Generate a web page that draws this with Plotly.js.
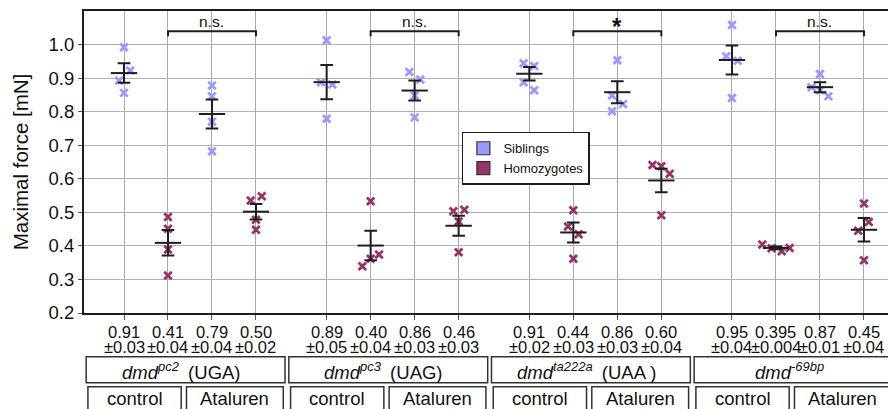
<!DOCTYPE html>
<html><head><meta charset="utf-8">
<script src="https://cdn.plot.ly/plotly-3.0.1.min.js"></script>
<style>html,body{margin:0;padding:0;background:#fff}#chart{width:888px;height:409px}</style>
</head><body><div id="chart"></div>
<script>
// ---- data ----
const genotypes = ['<i>dmd</i><sup><i>pc2</i></sup>', '<i>dmd</i><sup><i>pc3</i></sup>', '<i>dmd</i><sup><i>ta222a</i></sup>', '<i>dmd</i><sup><i>-69bp</i></sup>'];
const codons = ['(UGA)', '(UAG)', '(UAA )', ''];
const treatments = ['control', 'Ataluren'];
const groupNames = ['Siblings', 'Homozygotes'];
// 16 categories: per genotype [sib control, homo control, sib Ataluren, homo Ataluren]
const pointValues = [
  [0.992, 0.923, 0.893, 0.856], [0.486, 0.451, 0.389, 0.312], [0.878, 0.846, 0.770, 0.682], [0.535, 0.548, 0.478, 0.448],
  [1.013, 0.888, 0.881, 0.779], [0.533, 0.374, 0.362, 0.339], [0.918, 0.896, 0.848, 0.783], [0.503, 0.508, 0.473, 0.381],
  [0.944, 0.936, 0.888, 0.864], [0.506, 0.458, 0.435, 0.362], [0.953, 0.848, 0.823, 0.801], [0.641, 0.637, 0.615, 0.491],
  [1.058, 0.965, 0.952, 0.841], [0.404, 0.393, 0.384, 0.394], [0.912, 0.873, 0.864, 0.846], [0.526, 0.471, 0.445, 0.357]
];
const pointJitter = [
  [0, 0.14, -0.11, 0], [0, 0, 0, 0], [0, 0, 0, 0], [-0.12, 0.13, 0, 0],
  [0, -0.13, 0.13, 0], [0, 0.19, 0, -0.19], [-0.12, 0.13, 0, 0], [-0.12, 0.13, 0, 0],
  [-0.13, 0.11, -0.13, 0.11], [0, -0.12, 0.12, 0], [0, -0.12, 0.13, -0.12], [-0.2, 0, 0.19, 0],
  [0, -0.13, 0.13, 0], [-0.31, -0.1, 0.13, 0.31], [0, -0.19, 0, 0.19], [0, 0.11, -0.13, 0]
];
const means = [0.915, 0.409, 0.793, 0.502, 0.888, 0.401, 0.863, 0.46, 0.913, 0.44, 0.858, 0.595, 0.954, 0.394, 0.873, 0.448];
const sems = [0.029, 0.038, 0.043, 0.023, 0.051, 0.044, 0.03, 0.03, 0.02, 0.03, 0.033, 0.035, 0.043, 0.004, 0.015, 0.035];
const meanLabels = ['0.91', '0.41', '0.79', '0.50', '0.89', '0.40', '0.86', '0.46', '0.91', '0.44', '0.86', '0.60', '0.95', '0.395', '0.87', '0.45'];
const semLabels = ['±0.03', '±0.04', '±0.04', '±0.02', '±0.05', '±0.04', '±0.03', '±0.03', '±0.02', '±0.03', '±0.03', '±0.04', '±0.04', '±0.004', '±0.01', '±0.04'];
const significance = ['n.s.', 'n.s.', '*', 'n.s.'];
const yTicks = [0.2, 0.3, 0.4, 0.5, 0.6, 0.7, 0.8, 0.9, 1.0];

// ---- layout helpers ----
const GROUP_STEP = 4.606;
const pos = (g, i) => g * GROUP_STEP + i;
const catPos = [];
for (let g = 0; g < 4; g++) for (let i = 0; i < 4; i++) catPos.push(pos(g, i));

const COLORS = ['#9999FF', '#993366'];
const DARK = '#1e1e1e';
const FONT = '"Liberation Sans", Arial, Helvetica, sans-serif';

const traces = [];
[0, 1].forEach(k => {
  const xs = [], ys = [];
  catPos.forEach((p, c) => {
    if (c % 2 !== k) return;
    pointValues[c].forEach((v, j) => { xs.push(p + pointJitter[c][j]); ys.push(v); });
  });
  traces.push({
    type: 'scatter', mode: 'markers', x: xs, y: ys, showlegend: false, hoverinfo: 'y',
    marker: { symbol: 'x-thin-open', size: 7.5, color: COLORS[k], line: { color: COLORS[k], width: 2.8 } }
  });
});
traces.push({
  type: 'scatter', mode: 'markers', x: catPos, y: means, showlegend: false,
  marker: { symbol: 'line-ew-open', size: 18.8, color: DARK, line: { color: DARK, width: 2 } },
  error_y: { type: 'data', array: sems, visible: true, color: DARK, thickness: 2, width: 6.3 }
});
[0, 1].forEach(k => {
  traces.push({
    type: 'scatter', mode: 'markers', x: [null], y: [null], name: groupNames[k], showlegend: true,
    marker: { symbol: 'square', size: 13, color: COLORS[k], line: { color: '#333', width: 1.2 } }
  });
});

const shapes = [], annotations = [];
const pyToPaper = py => (313 - py) / 302;
for (let g = 0; g < 4; g++) {
  const p0 = pos(g, 0), p1 = pos(g, 1), p3 = pos(g, 3);
  shapes.push({ type: 'path', xref: 'x', yref: 'y', path: `M${p1},1.025 L${p1},1.04 L${p3},1.04 L${p3},1.025`, line: { color: DARK, width: 2 } });
  const star = significance[g] === '*';
  annotations.push({ xref: 'x', yref: 'y', x: (p1 + p3) / 2, y: 1.04, yanchor: 'bottom', yshift: star ? -11 : -1, showarrow: false,
    text: star ? '<b>*</b>' : significance[g], font: { size: star ? 24 : 15.5, color: '#111', family: FONT } });
  shapes.push({ type: 'rect', xref: 'x', yref: 'paper', x0: p0 - 0.86, x1: p0 + 3.66, y0: pyToPaper(356.7), y1: pyToPaper(382.7), line: { color: '#333', width: 1.5 } });
  annotations.push({ xref: 'x', yref: 'paper', x: p0 + 1.3, y: pyToPaper(370.5), yanchor: 'middle', showarrow: false,
    text: genotypes[g] + (codons[g] ? '\u2002' + codons[g] : ''), font: { size: 18.5, color: '#111', family: FONT } });
  const tb = [[p0 - 0.82, p0 + 1.30], [p0 + 1.42, p0 + 3.62]];
  tb.forEach((b, t) => {
    shapes.push({ type: 'rect', xref: 'x', yref: 'paper', x0: b[0], x1: b[1], y0: pyToPaper(386.7), y1: pyToPaper(430), line: { color: '#333', width: 1.5 } });
    annotations.push({ xref: 'x', yref: 'paper', x: (b[0] + b[1]) / 2, y: pyToPaper(398.5), yanchor: 'middle', showarrow: false,
      text: treatments[t], font: { size: 18.5, color: '#111', family: FONT } });
  });
}
catPos.forEach((p, c) => {
  annotations.push({ xref: 'x', yref: 'paper', x: p, y: pyToPaper(331.7), yanchor: 'middle', showarrow: false, text: meanLabels[c], font: { size: 16.5, color: '#111', family: FONT } });
  annotations.push({ xref: 'x', yref: 'paper', x: p, y: pyToPaper(346.5), yanchor: 'middle', showarrow: false, text: semLabels[c], font: { size: 16.5, color: '#111', family: FONT } });
});

const layout = {
  width: 888, height: 409,
  margin: { l: 84, r: 0, t: 11, b: 96, pad: 0 },
  paper_bgcolor: '#fff', plot_bgcolor: '#fff',
  font: { family: FONT, color: '#111' },
  showlegend: true,
  legend: { x: 0.47, y: 0.6, xanchor: 'left', yanchor: 'top', bgcolor: '#fff', bordercolor: DARK, borderwidth: 1.5,
    font: { size: 13, family: FONT, color: '#111' }, itemwidth: 30, tracegroupgap: 0 },
  xaxis: {
    range: [-0.909, 17.364], tickvals: catPos, showticklabels: false, ticks: 'outside', ticklen: 5, tickcolor: '#555', tickwidth: 1,
    showgrid: true, gridcolor: '#a8a8a8', gridwidth: 1, zeroline: false,
    showline: true, linecolor: DARK, linewidth: 2, mirror: true, fixedrange: true
  },
  yaxis: {
    range: [0.2, 1.1], tickvals: yTicks, tickformat: '.1f', ticks: 'outside', ticklen: 4, tickcolor: '#555',
    showgrid: true, gridcolor: '#b0b0b0', gridwidth: 1, zeroline: false,
    showline: true, linecolor: DARK, linewidth: 2, mirror: false,
    tickfont: { size: 18.5, color: '#111', family: FONT },
    title: { text: 'Maximal force [mN]', font: { size: 20.5, color: '#111', family: FONT }, standoff: 14 }, fixedrange: true
  },
  shapes: shapes, annotations: annotations
};
Plotly.newPlot('chart', traces, layout, { displayModeBar: false, staticPlot: true });
</script></body></html>
